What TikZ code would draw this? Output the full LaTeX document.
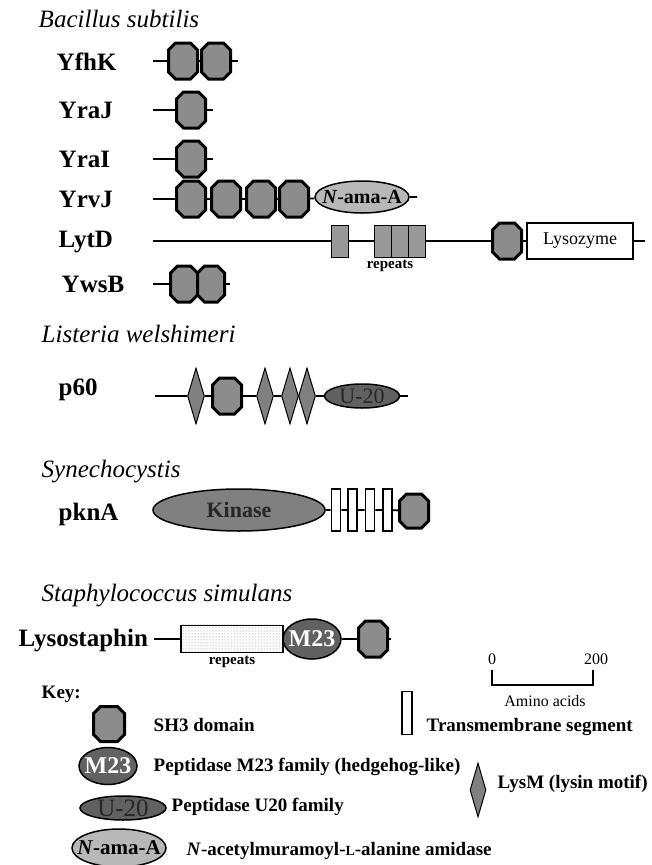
\documentclass[tikz,border=0pt]{standalone}
\usepackage{fontspec}
\setmainfont{Liberation Serif}
\usetikzlibrary{shapes.geometric,patterns}

\begin{document}
\begin{tikzpicture}[x=1pt,y=-1pt,thick]
\tikzstyle{bb} = [line width=1.8pt]
\tikzstyle{sh3} = [inner sep=0pt,outer sep=0pt,minimum width=29pt,minimum height=36pt,append after command={\pgfextra{\draw[fill=black!45,line width=3pt]
  ([xshift=7pt]\tikzlastnode.north west) -- ([xshift=-7pt]\tikzlastnode.north east) -- ([yshift=-7pt]\tikzlastnode.north east) -- ([yshift=7pt]\tikzlastnode.south east) -- ([xshift=-7pt]\tikzlastnode.south east) -- ([xshift=7pt]\tikzlastnode.south west) -- ([yshift=7pt]\tikzlastnode.south west) -- ([yshift=-7pt]\tikzlastnode.north west) -- cycle;}}]
\tikzstyle{lysm} = [draw,fill=black!50,line width=1pt,diamond,inner sep=0pt,minimum width=17pt,minimum height=56pt]
\tikzstyle{tm} = [draw,fill=white,line width=1.8pt,inner sep=0pt,minimum width=9pt,minimum height=42pt]
\tikzstyle{rp} = [draw,fill=black!40,line width=1pt,inner sep=0pt,minimum width=17pt,minimum height=32pt]
\tikzstyle{amid} = [draw,fill=black!28,line width=1.5pt,ellipse,inner sep=0pt]
\tikzstyle{pep} = [draw,fill=black!62,line width=1.5pt,ellipse,inner sep=0pt]
\tikzstyle{gene} = [anchor=base west,font=\fontsize{25}{30}\selectfont\bfseries]
\tikzstyle{org} = [anchor=base west,font=\fontsize{25}{30}\selectfont\itshape]
\tikzstyle{keyt} = [anchor=west,font=\fontsize{19}{23}\selectfont\bfseries]
\tikzstyle{small} = [font=\fontsize{16}{19}\selectfont]
\tikzstyle{rpt} = [font=\fontsize{15}{18}\selectfont\bfseries]
\tikzstyle{amat} = [font=\fontsize{20}{24}\selectfont\bfseries]
\tikzstyle{m23t} = [text=white,font=\fontsize{24}{28}\selectfont\bfseries]
\tikzstyle{u20t} = [text=black!85,font=\fontsize{22}{26}\selectfont]

\useasboundingbox (0,0) rectangle (652,865);

\node[org] (bsu) at (35,27) {Bacillus subtilis};

\node[gene] (yfhk) at (53,70) {YfhK};
\coordinate (yfhk0) at (153,61);
\node[sh3] (yfhka) at (183,61) {};
\node[sh3] (yfhkb) at (216,61) {};
\coordinate (yfhk1) at (238,61);
\draw[bb] (yfhk0) -- (yfhka) -- (yfhkb) -- (yfhk1);

\node[gene] (yraj) at (55,118) {YraJ};
\coordinate (yraj0) at (153,110);
\node[sh3] (yraja) at (191,110) {};
\coordinate (yraj1) at (213,110);
\draw[bb] (yraj0) -- (yraja) -- (yraj1);

\node[gene] (yrai) at (55,167) {YraI};
\coordinate (yrai0) at (153,159);
\node[sh3] (yraia) at (191,159) {};
\coordinate (yrai1) at (213,159);
\draw[bb] (yrai0) -- (yraia) -- (yrai1);

\node[gene] (yrvj) at (55,207) {YrvJ};
\coordinate (yrvj0) at (153,199);
\node[sh3] (yrvja) at (191,199) {};
\node[sh3] (yrvjb) at (226,199) {};
\node[sh3] (yrvjc) at (261,199) {};
\node[sh3] (yrvjd) at (294,199) {};
\node[amid,minimum width=94pt,minimum height=32pt,label={[amat]center:{\textit{N}-ama-A}}] (yrvje) at (362,197) {};
\coordinate (yrvj1) at (417,197);
\draw[bb] (yrvj0) -- (yrvja) -- (yrvjb) -- (yrvjc) -- (yrvjd) -- (yrvje) -- (yrvj1);

\node[gene] (lytd) at (55,247) {LytD};
\coordinate (lytd0) at (153,241);
\node[rp] (lytda) at (340,241) {};
\node[rp] (lytdb) at (382.5,241) {};
\node[rp] (lytdc) at (399.5,241) {};
\node[rp] (lytdd) at (416.5,241) {};
\node[sh3] (lytde) at (507,241) {};
\node[draw,fill=white,line width=1.2pt,minimum width=106pt,minimum height=36pt,font=\fontsize{18}{22}\selectfont] (lytdf) at (580,241) {Lysozyme};
\coordinate (lytd1) at (645,241);
\draw[bb] (lytd0) -- (lytda) -- (lytdb) (lytdd) -- (lytde) -- (lytdf) -- (lytd1);
\node[rpt] (lytdr) at (390,266) {repeats};

\node[gene] (ywsb) at (58,292) {YwsB};
\coordinate (ywsb0) at (153,284);
\node[sh3,minimum width=27pt] (ywsba) at (184,284) {};
\node[sh3,minimum width=27pt] (ywsbb) at (211,284) {};
\coordinate (ywsb1) at (230,284);
\draw[bb] (ywsb0) -- (ywsba) (ywsbb) -- (ywsb1);

\node[org] (lwe) at (38,342) {Listeria welshimeri};

\node[gene] (p60) at (55,395) {p60};
\coordinate (p600) at (155,396);
\node[lysm] (p60a) at (196,396) {};
\node[sh3] (p60b) at (227,396) {};
\node[lysm] (p60c) at (265,396) {};
\node[lysm] (p60d) at (290,396) {};
\node[lysm] (p60e) at (307,396) {};
\node[pep,minimum width=75pt,minimum height=24pt,label={[u20t]center:U-20}] (p60f) at (362,396) {};
\coordinate (p601) at (408,396);
\draw[bb] (p600) -- (p60a) -- (p60b) -- (p60c) -- (p60d) -- (p60e) -- (p60f) -- (p601);

\node[org] (syn) at (38,477) {Synechocystis};

\node[gene] (pkna) at (55,520) {pknA};
\node[draw,fill=black!50,line width=1.5pt,ellipse,inner sep=0pt,minimum width=172pt,minimum height=42pt,label={[text=black!85,font=\fontsize{22}{26}\selectfont\bfseries]center:Kinase}] (pknaa) at (239,510) {};
\node[tm] (pknab) at (336,510) {};
\node[tm] (pknac) at (352.5,510) {};
\node[tm] (pknad) at (370,510) {};
\node[tm] (pknae) at (387.5,510) {};
\node[sh3,minimum height=34pt] (pknaf) at (414,511) {};
\draw[bb] (pknaa) -- (pknab) -- (pknac) -- (pknad) -- (pknae) -- (pknaf);

\node[org] (ssi) at (38,601) {Staphylococcus simulans};

\node[gene] (lss) at (15,646) {Lysostaphin};
\coordinate (lss0) at (154,639);
\node[draw,fill=white,line width=1.2pt,inner sep=0pt,minimum width=102pt,minimum height=27pt] (lssa) at (232,639) {};
\fill[pattern=dots,pattern color=black!55] (lssa.south west) rectangle (lssa.north east);
\node[pep,minimum width=58pt,minimum height=40pt,label={[m23t]center:M23}] (lssb) at (312,639) {};
\node[sh3] (lssc) at (373,639) {};
\coordinate (lss1) at (391,639);
\draw[bb] (lss0) -- (lssa) -- (lssb) -- (lssc) -- (lss1);
\node[rpt] (lssr) at (232,662) {repeats};

\coordinate (sc0) at (492,670);
\coordinate (sc1) at (492,685);
\coordinate (sc2) at (593,685);
\coordinate (sc3) at (593,670);
\draw[line width=2pt] (sc0) -- (sc1) -- (sc2) -- (sc3);
\node[small] (scl) at (492,659) {0};
\node[small] (scr) at (596,659) {200};
\node[small] (sct) at (545,701) {Amino acids};

\node[keyt] (key) at (38,694) {Key:};
\node[sh3,minimum width=31pt,minimum height=35pt] (ksh3) at (109,724) {};
\node[keyt] (ksh3t) at (150,725) {SH3 domain};
\node[pep,minimum width=58pt,minimum height=37pt,label={[m23t]center:M23}] (km23) at (108,766) {};
\node[keyt] (km23t) at (150,767) {Peptidase M23 family (hedgehog-like)};
\node[pep,minimum width=86pt,minimum height=24pt,label={[u20t,font=\fontsize{25}{28}\selectfont]center:U-20}] (ku20) at (123,808) {};
\node[keyt] (ku20t) at (168,807) {Peptidase U20 family};
\node[amid,minimum width=94pt,minimum height=38pt,label={[amat,font=\fontsize{21}{24}\selectfont\bfseries]center:{\textit{N}-ama-A}}] (kama) at (119,848) {};
\node[keyt] (kamat) at (183,851) {\textit{N}-acetylmuramoyl-{\fontsize{14}{14}\selectfont L}-alanine amidase};
\node[tm,minimum width=10pt,minimum height=43pt] (ktm) at (407,713) {};
\node[keyt] (ktmt) at (423,727) {Transmembrane segment};
\node[lysm,minimum width=16pt,minimum height=54pt] (klysm) at (478,790) {};
\node[keyt] (klysmt) at (494,784) {LysM (lysin motif)};
\end{tikzpicture}
\end{document}
